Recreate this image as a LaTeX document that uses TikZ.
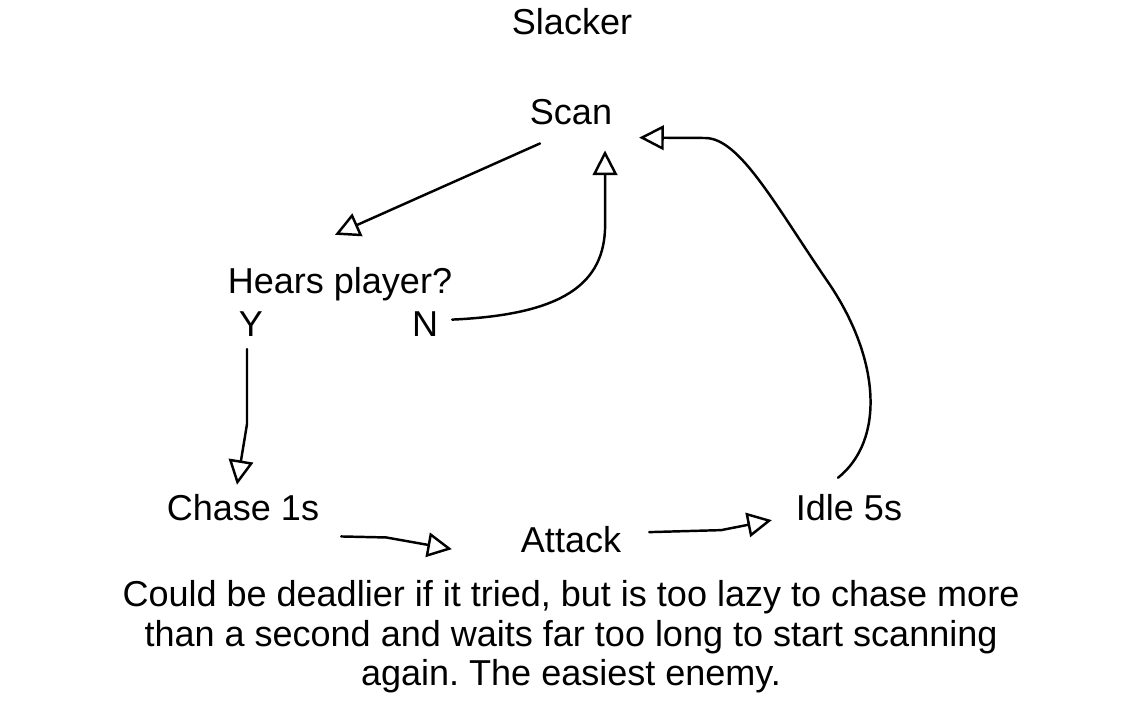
\documentclass[tikz,border=0pt]{standalone}
\usepackage{fontspec}
\setmainfont{Liberation Sans}
\usetikzlibrary{arrows.meta}

\begin{document}
\frenchspacing
\begin{tikzpicture}[x=0.02cm, y=-0.02cm,
		label/.style={font=\fontsize{20.5}{22.7}\selectfont, inner sep=1pt, anchor=base},
		link/.style={line width=1.4pt, line join=round, line cap=round,
			-{Triangle[open, length=14pt, width=14pt, line width=1.4pt]}}]
		\useasboundingbox (0,0) rectangle (1141,712);
		\node[label] (title) at (572,35) {Slacker};
		\node[label] (scan) at (571,125) {Scan};
		\node[label] (hears) at (340,294) {Hears player?};
		\node[label] (yes) at (251,337) {Y};
		\node[label] (no) at (425,337) {N};
		\node[label] (chase) at (243,520) {Chase 1s};
		\node[label] (attack) at (571,552) {Attack};
		\node[label] (idle) at (849,520) {Idle 5s};
		\node[label, align=center, anchor=north] (note) at (571,578) {Could be deadlier if it tried, but is too lazy to chase more\\than a second and waits far too long to start scanning\\again. The easiest enemy.};
		\draw[link] ([shift={(-31,16)}]scan.south) -- ([shift={(-5,-31)}]hears.north);
		\draw[link] ([shift={(12,-5)}]no.east) .. controls +(110,-5) and +(0,60) .. ++(153,-95) -- ([shift={(34,23)}]scan.south);
		\draw[link] ([shift={(-4,10)}]yes.south) -- ++(0,75) -- ([shift={(-6,-7)}]chase.north);
		\draw[link] ([shift={(20,14)}]chase.south east) -- ++(45,1) -- ([shift={(-67,10)}]attack.west);
		\draw[link] ([shift={(26,-7)}]attack.east) -- ++(72,-2) -- ([shift={(-22,13)}]idle.west);
		\draw[link] ([shift={(-11,-14)}]idle.north) .. controls (885,440) and (880,360) .. (830,285)
			.. controls (775,205) and (740,138) .. (705,138) -- ([shift={(25,25)}]scan.east);
	\end{tikzpicture}
\end{document}
